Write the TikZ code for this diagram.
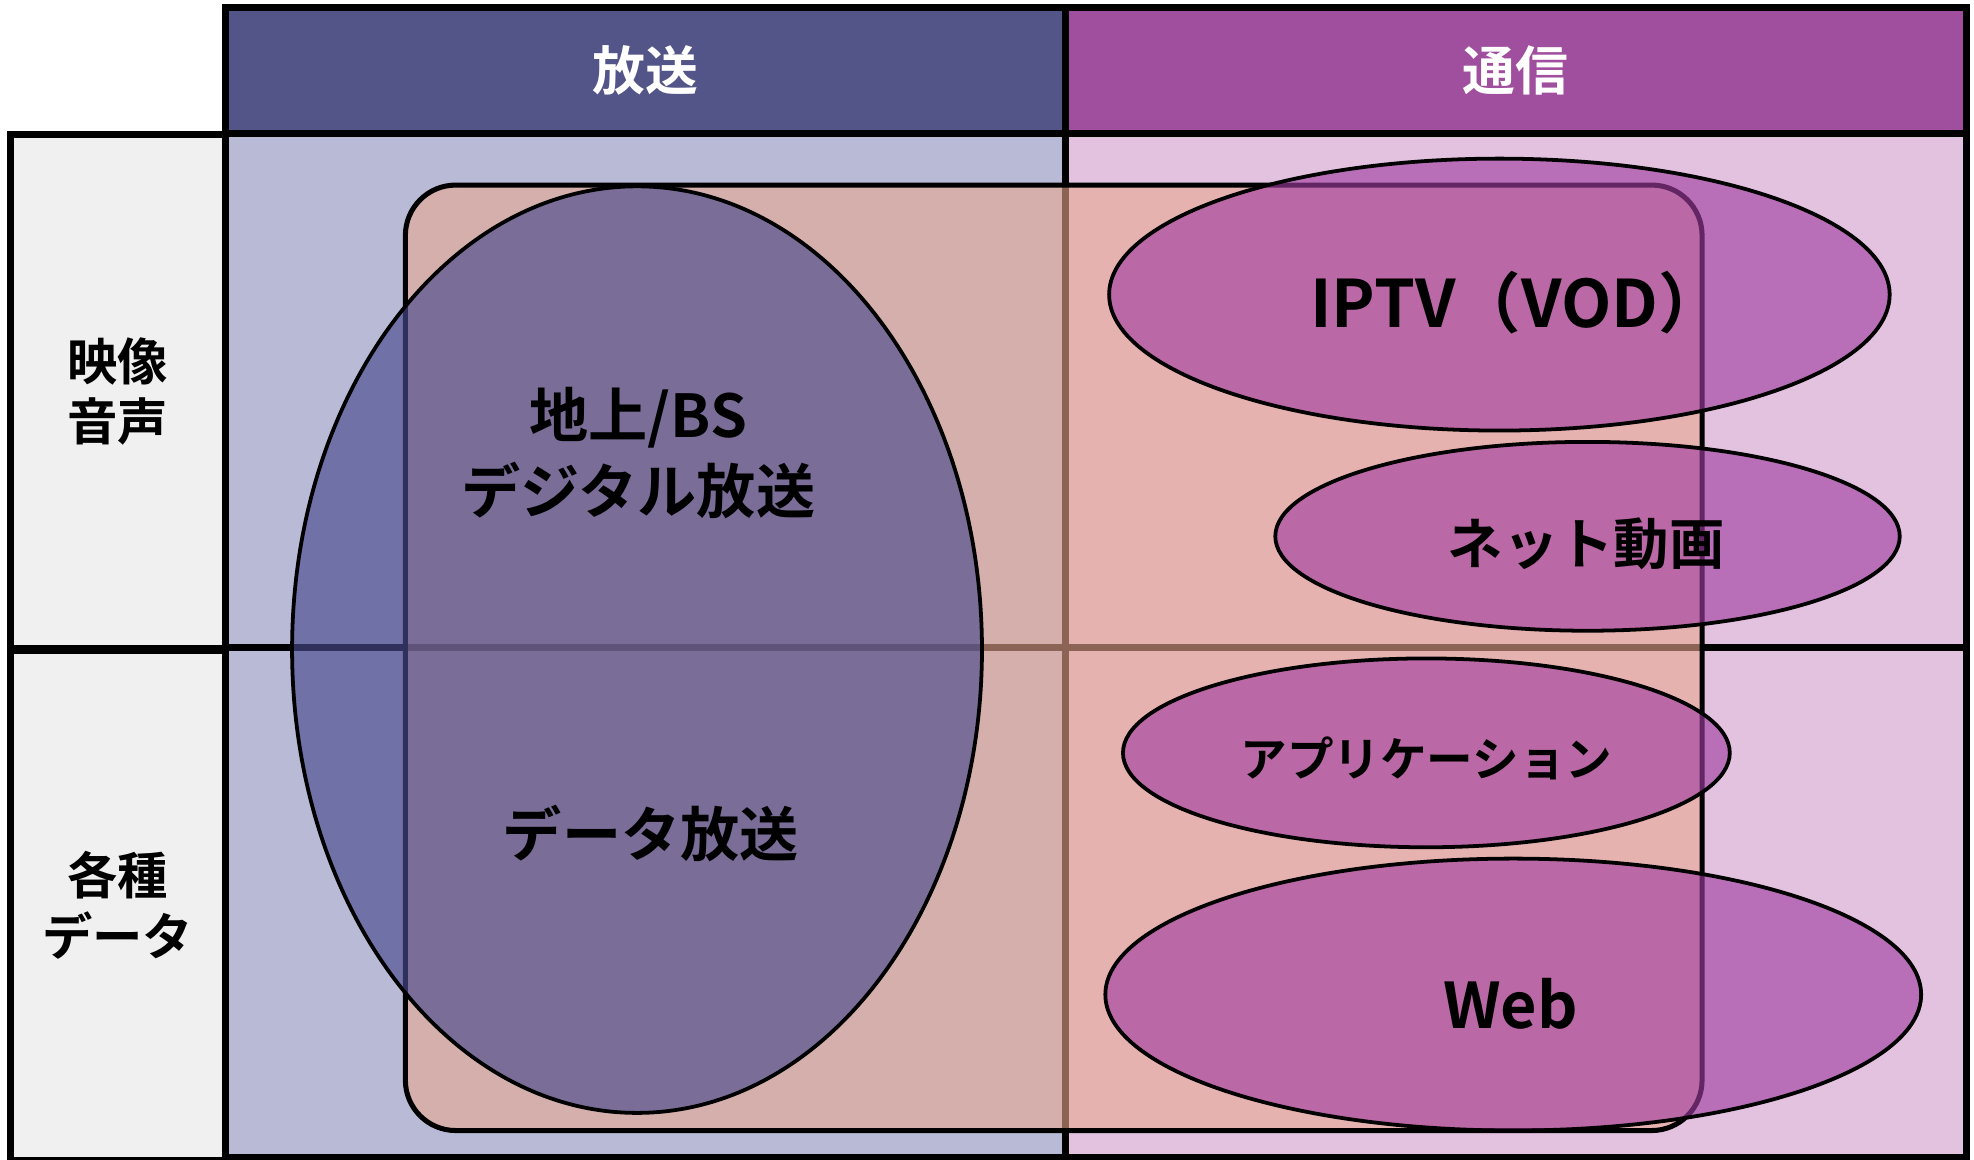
\documentclass[tikz,border=0pt]{standalone}
\usepackage{fontspec}
\setmainfont{Noto Sans CJK JP}[BoldFont=* Bold]
\usetikzlibrary{shapes.geometric}
\definecolor{hdrA}{HTML}{535488}
\definecolor{hdrB}{HTML}{A04E9E}
\definecolor{cellA}{HTML}{B9BAD6}
\definecolor{cellB}{HTML}{E3C2E0}
\definecolor{labcol}{HTML}{F0F0F0}
\definecolor{peach}{HTML}{E8A890}
\definecolor{blueov}{HTML}{4A4B8E}
\definecolor{magov}{HTML}{A03CA0}
\begin{document}
\begin{tikzpicture}[x=1pt,y=-1pt,
  cell/.style={draw=black, line width=5.5pt, inner sep=0pt, outer sep=0pt, align=center},
  hdrtext/.style={text=white, font=\bfseries\fontsize{42}{48}\selectfont},
  labtext/.style={text=black, font=\bfseries\fontsize{40}{48}\selectfont},
  rrect/.style={draw=black, line width=4pt, fill=peach, fill opacity=0.6, draw opacity=1,
    rounded corners=40pt, inner sep=0pt, minimum width=1030pt, minimum height=751pt},
  bigell/.style={ellipse, draw=black, line width=3pt, fill=blueov, fill opacity=0.65, draw opacity=1, inner sep=0pt},
  magell/.style={ellipse, draw=black, line width=3pt, fill=magov, fill opacity=0.62, draw opacity=1, inner sep=0pt},
  intext/.style={text=black, align=center, inner sep=0pt}
]
\useasboundingbox (0,0) rectangle (1568,921);
\fill[white] (0,0) rectangle (1568,921);
% header cells
\node[cell, fill=hdrA, minimum width=667pt, minimum height=100pt, hdrtext] (hA) at (512.5,56) {放送};
\node[cell, fill=hdrB, minimum width=716pt, minimum height=100pt, hdrtext] (hB) at (1204,56) {通信};
% row label cells
\node[cell, fill=labcol, minimum width=171pt, minimum height=408pt, labtext] (lA) at (93.5,311) {映像\\音声};
\node[cell, fill=labcol, minimum width=171pt, minimum height=405pt, labtext] (lB) at (93.5,719) {各種\\データ};
% body cells
\node[cell, fill=cellA, minimum width=667pt, minimum height=408pt] (cA1) at (512.5,310) {};
\node[cell, fill=cellA, minimum width=667pt, minimum height=405pt] (cA2) at (512.5,716.5) {};
\node[cell, fill=cellB, minimum width=716pt, minimum height=408pt] (cB1) at (1204,310) {};
\node[cell, fill=cellB, minimum width=716pt, minimum height=405pt] (cB2) at (1204,716.5) {};
% overlay shapes
\node[rrect] (svc) at (837,522.5) {};
\node[bigell, minimum width=548pt, minimum height=736pt] (bcast) at (506,516) {};
\node[magell, minimum width=620pt, minimum height=216pt] (iptv) at (1191,234) {};
\node[magell, minimum width=496pt, minimum height=150pt] (net) at (1261,426) {};
\node[magell, minimum width=482pt, minimum height=150pt] (app) at (1133,598) {};
\node[magell, minimum width=648pt, minimum height=216pt] (web) at (1202,790) {};
% texts
\node[intext, font=\bfseries\fontsize{47}{60}\selectfont] (tdig) at (507,360) {地上/BS\\デジタル放送};
\node[intext, font=\bfseries\fontsize{47}{50}\selectfont] (tdat) at (517,662) {データ放送};
\node[intext, font=\bfseries\fontsize{52}{56}\selectfont] (tiptv) at (1205,240) {IPTV（VOD）};
\node[intext, font=\bfseries\fontsize{44}{50}\selectfont] (tnet) at (1260,432) {ネット動画};
\node[intext, font=\bfseries\fontsize{37}{40}\selectfont] (tapp) at (1133,602) {アプリケーション};
\node[intext, font=\bfseries\fontsize{50}{50}\selectfont] (tweb) at (1200,797) {Web};
\end{tikzpicture}
\end{document}
